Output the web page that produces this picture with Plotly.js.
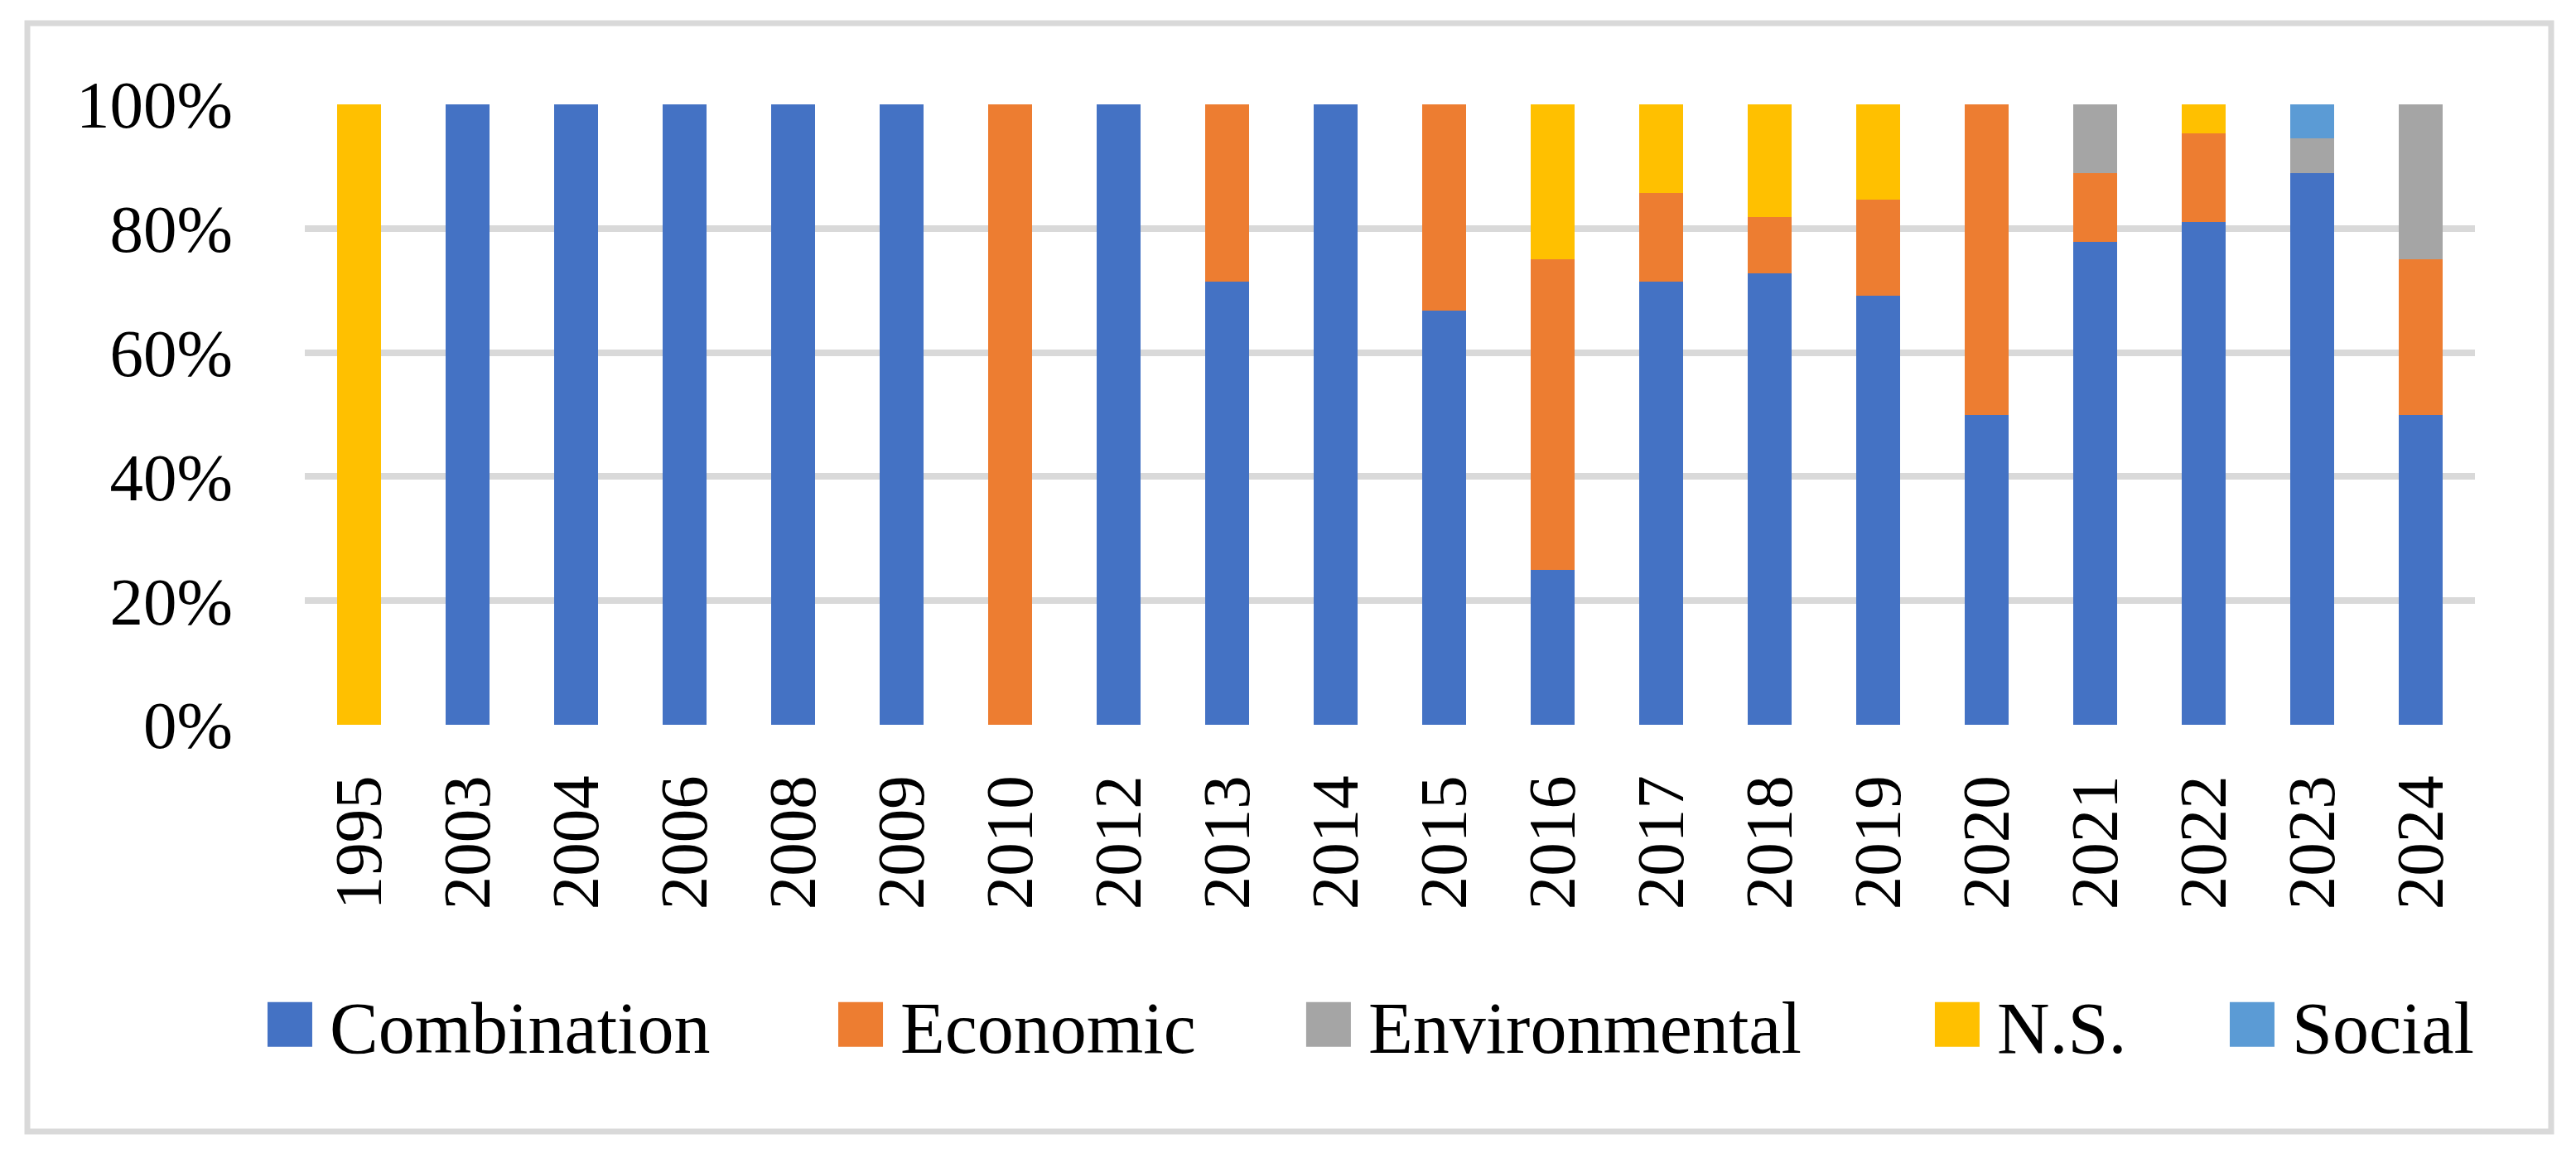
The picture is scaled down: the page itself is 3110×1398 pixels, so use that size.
<!DOCTYPE html>
<html>
<head>
<meta charset="utf-8">
<script src="https://cdn.plot.ly/plotly-3.0.1.min.js"></script>
<style>html,body{margin:0;padding:0;background:#fff;}#chart{width:3110px;height:1398px;}</style>
</head>
<body>
<div id="chart"></div>
<script>
// ---- data (percent of studies per year) ----
const years = ["1995","2003","2004","2006","2008","2009","2010","2012","2013","2014","2015","2016","2017","2018","2019","2020","2021","2022","2023","2024"];
const combination   = [0,100,100,100,100,100,0,100,71.4,100,66.7,25,71.4,72.7,69.2,50,77.8,81.0,88.9,50];
const economic      = [0,0,0,0,0,0,100,0,28.6,0,33.3,50,14.3,9.1,15.4,50,11.1,14.3,0,25];
const environmental = [0,0,0,0,0,0,0,0,0,0,0,0,0,0,0,0,11.1,0,5.6,25];
const ns            = [100,0,0,0,0,0,0,0,0,0,0,25,14.3,18.2,15.4,0,0,4.7,0,0];
const social        = [0,0,0,0,0,0,0,0,0,0,0,0,0,0,0,0,0,0,5.5,0];
const yTicks = [0,20,40,60,80,100];
const yTickText = ["0%","20%","40%","60%","80%","100%"];

const seriesNames  = ["Combination","Economic","Environmental","N.S.","Social"];
const seriesValues = [combination, economic, environmental, ns, social];
const seriesColors = ["#4472C4","#ED7D31","#A5A5A5","#FFC000","#5B9BD5"];
const legendIds    = ["legend","legend2","legend3","legend4","legend5"];
const legendX      = [-0.0252, 0.2378, 0.4534, 0.7431, 0.8790];

const FONT = "Liberation Serif, 'Times New Roman', serif";

const traces = seriesNames.map((name, i) => ({
  type: "bar",
  name: name,
  x: years,
  y: seriesValues[i],
  marker: {color: seriesColors[i], line: {width: 0}},
  legend: legendIds[i],
  showlegend: true,
  hoverinfo: "skip"
}));

const layout = {
  width: 3110,
  height: 1398,
  margin: {l: 368, r: 122, t: 126, b: 523, pad: 0},
  paper_bgcolor: "#ffffff",
  plot_bgcolor: "#ffffff",
  showlegend: true,
  barmode: "stack",
  bargap: 0.595,
  font: {family: FONT, color: "#000000", size: 81},
  xaxis: {
    type: "category",
    tickangle: -90,
    showgrid: false,
    zeroline: false,
    showline: false,
    ticks: "",
    ticklabelstandoff: 44,
    tickfont: {family: FONT, size: 81, color: "#000000"}
  },
  yaxis: {
    range: [0, 100],
    tickmode: "array",
    tickvals: yTicks,
    ticktext: yTickText,
    showgrid: true,
    gridcolor: "#D9D9D9",
    gridwidth: 8,
    zeroline: false,
    showline: false,
    ticks: "",
    ticklabelstandoff: 86,
    tickfont: {family: FONT, size: 81, color: "#000000"}
  },
  shapes: [{
    type: "rect", xref: "paper", yref: "paper",
    x0: -0.12786, x1: 1.03511, y0: -0.65554, y1: 1.13084,
    line: {color: "#D9D9D9", width: 7},
    fillcolor: "rgba(0,0,0,0)",
    layer: "below"
  }]
};

legendIds.forEach((id, i) => {
  layout[id] = {
    orientation: "h",
    x: legendX[i], xanchor: "left",
    y: -0.4833, yanchor: "middle",
    itemwidth: 86,
    bgcolor: "rgba(0,0,0,0)",
    borderwidth: 0,
    font: {family: FONT, size: 88, color: "#000000"}
  };
});

Plotly.newPlot("chart", traces, layout, {staticPlot: true, displayModeBar: false}).then(() => {
  document.querySelectorAll(".legendpoints path").forEach(p => {
    const t = p.getAttribute("transform") || "";
    p.setAttribute("transform", t + " scale(4.5)");
  });
});
</script>
</body>
</html>
